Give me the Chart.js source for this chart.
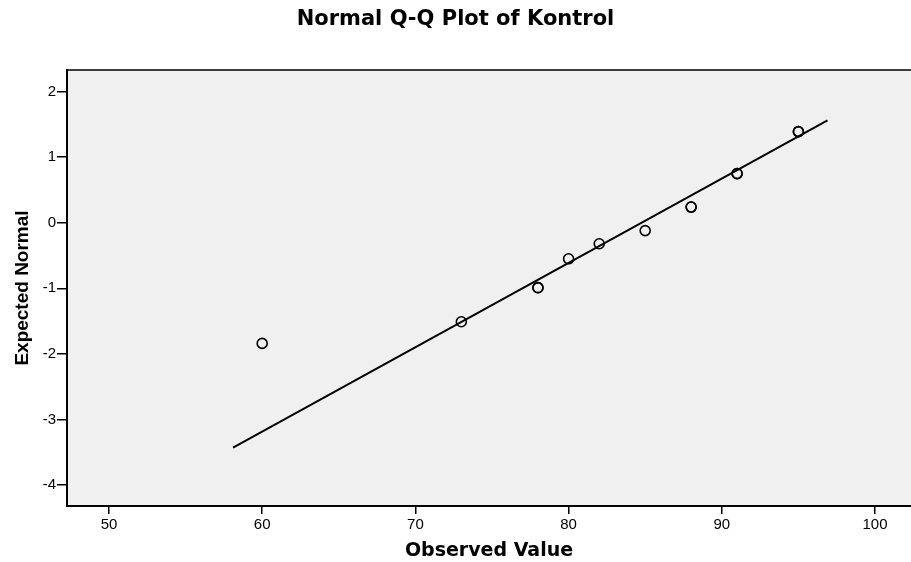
<!DOCTYPE html>
<html>
<head>
<meta charset="utf-8">
<script src="https://cdn.jsdelivr.net/npm/chart.js@4/dist/chart.umd.min.js"></script>
<style>
  html, body { margin: 0; padding: 0; background: #fff; }
  #wrap { width: 911px; height: 562px; position: relative; }
</style>
</head>
<body>
<div id="wrap"><canvas id="qq"></canvas></div>
<script>
// observed values and their expected normal scores
const observed = [60, 73, 78, 78, 80, 82, 85, 88, 88, 91, 91, 95, 95];
const expected = [-1.84, -1.51, -0.99, -0.99, -0.55, -0.32, -0.12, 0.24, 0.24, 0.75, 0.75, 1.39, 1.39];

// reference line end points
const lineX = [58.1, 96.9];
const lineY = [-3.43, 1.56];

const xTicks = [50, 60, 70, 80, 90, 100];
const yTicks = [-4, -3, -2, -1, 0, 1, 2];

const fontFam = '"Liberation Sans", Arial, sans-serif';

const areaPlugin = {
  id: 'areaPlugin',
  beforeDraw(chart) {
    const { ctx, chartArea: a } = chart;
    ctx.save();
    ctx.fillStyle = '#f0f0f0';
    ctx.fillRect(a.left, a.top, a.right - a.left, a.bottom - a.top);
    ctx.strokeStyle = '#000';
    ctx.lineWidth = 1.5;
    ctx.beginPath();
    ctx.moveTo(a.left, a.top);
    ctx.lineTo(a.right, a.top);
    ctx.stroke();
    ctx.restore();
  }
};

const ctx = document.getElementById('qq');

new Chart(ctx, {
  type: 'scatter',
  data: {
    datasets: [{
      type: 'line',
      data: lineX.map((x, i) => ({ x: x, y: lineY[i] })),
      borderColor: '#000',
      borderWidth: 2,
      pointRadius: 0,
      fill: false
    }, {
      data: observed.map((x, i) => ({ x: x, y: expected[i] })),
      pointStyle: 'circle',
      pointRadius: 5,
      borderColor: '#000',
      borderWidth: 1.6,
      backgroundColor: 'rgba(0,0,0,0)'
    }]
  },
  options: {
    responsive: true,
    maintainAspectRatio: false,
    animation: false,
    layout: { autoPadding: false, padding: { left: 0, right: 0, top: 0, bottom: 0 } },
    plugins: {
      legend: { display: false },
      tooltip: { enabled: false },
      title: {
        display: true,
        text: 'Normal Q-Q Plot of Kontrol',
        color: '#000',
        font: { family: '"DejaVu Sans", sans-serif', size: 21, weight: 'bold' },
        padding: { top: 7, bottom: 37.8 }
      }
    },
    scales: {
      x: {
        type: 'linear',
        min: 47.26,
        max: 102.35,
        afterBuildTicks: (s) => { s.ticks = xTicks.map((v) => ({ value: v })); },
        afterFit: (s) => { s.height = 56; s.paddingLeft = 0; s.paddingRight = 0; },
        grid: { drawOnChartArea: false, drawTicks: true, tickLength: 8, color: '#000', lineWidth: 1.5 },
        border: { display: true, color: '#000', width: 2 },
        ticks: { color: '#000', padding: 2, font: { family: fontFam, size: 15 }, maxRotation: 0 },
        title: {
          display: true,
          text: 'Observed Value',
          color: '#000',
          font: { family: '"DejaVu Sans", sans-serif', size: 19, weight: 'bold' },
          padding: { top: 3, bottom: 0 }
        }
      },
      y: {
        type: 'linear',
        min: -4.32,
        max: 2.33,
        afterBuildTicks: (s) => { s.ticks = yTicks.map((v) => ({ value: v })); },
        afterFit: (s) => { s.width = 67; },
        grid: { drawOnChartArea: false, drawTicks: true, tickLength: 10, color: '#000', lineWidth: 1.5 },
        border: { display: true, color: '#000', width: 2 },
        ticks: { color: '#000', padding: 1, font: { family: fontFam, size: 15 } },
        title: {
          display: true,
          text: 'Expected Normal',
          color: '#000',
          font: { family: '"Liberation Sans Narrow", "Liberation Sans", sans-serif', size: 19, weight: 'bold' },
          padding: { top: 11, bottom: 0 }
        }
      }
    }
  },
  plugins: [areaPlugin]
});
</script>
</body>
</html>
